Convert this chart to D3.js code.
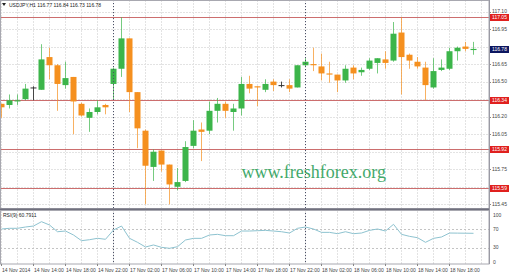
<!DOCTYPE html>
<html>
<head>
<meta charset="utf-8">
<script src="https://cdn.jsdelivr.net/npm/d3@7"></script>
<style>
body { margin: 0; background: #fff; }
svg { display: block; }
text { font-family: "Liberation Sans", Arial, sans-serif; }
</style>
</head>
<body>
<div id="chart"></div>
<script>
// USDJPY H1, 14 Nov 10:00 .. 18 Nov 21:00
const opens = [116.31, 116.30, 116.33, 116.35, 116.45, 116.43, 116.71, 116.64, 116.47, 116.54,
    116.31, 116.19, 116.24, 116.30, 116.48, 116.61, 116.87, 116.41, 116.08, 115.77,
    115.91, 115.79, 115.60, 115.65, 115.95, 116.09, 116.08, 116.25, 116.31, 116.24,
    116.27, 116.48, 116.46, 116.43, 116.50, 116.47, 116.47, 116.45, 116.64, 116.65,
    116.63, 116.57, 116.56, 116.51, 116.62, 116.58, 116.61, 116.66, 116.69, 116.68,
    116.92, 116.73, 116.67, 116.62, 116.45, 116.60, 116.61, 116.76, 116.80, 116.77]
const highs = [116.31, 116.39, 116.39, 116.48, 116.46, 116.82, 116.79, 116.65, 116.67, 116.54,
    116.32, 116.27, 116.34, 116.31, 116.62, 117.05, 116.87, 116.41, 116.09, 115.92,
    115.91, 115.79, 115.76, 115.99, 116.17, 116.15, 116.33, 116.36, 116.33, 116.31,
    116.54, 116.55, 116.46, 116.52, 116.52, 116.50, 116.52, 116.64, 116.70, 116.79,
    116.74, 116.67, 116.56, 116.64, 116.64, 116.62, 116.70, 116.70, 116.76, 117.01,
    117.05, 116.74, 116.71, 116.67, 116.70, 116.69, 116.79, 116.80, 116.84, 116.84]
const lows = [116.19, 116.27, 116.30, 116.34, 116.34, 116.43, 116.52, 116.25, 116.44, 116.05,
    116.20, 116.07, 116.22, 116.22, 116.35, 116.54, 116.24, 115.93, 115.45, 115.65,
    115.73, 115.45, 115.57, 115.64, 115.93, 115.82, 116.05, 116.15, 116.19, 116.08,
    116.21, 116.40, 116.29, 116.41, 116.42, 116.45, 116.41, 116.45, 116.63, 116.59,
    116.51, 116.49, 116.41, 116.49, 116.52, 116.55, 116.60, 116.57, 116.61, 116.67,
    116.39, 116.61, 116.61, 116.34, 116.44, 116.59, 116.60, 116.68, 116.76, 116.73]
const closes = [116.28, 116.34, 116.34, 116.44, 116.45, 116.69, 116.64, 116.48, 116.53, 116.33,
    116.21, 116.24, 116.28, 116.28, 116.61, 116.87, 116.41, 116.10, 115.78, 115.90,
    115.79, 115.62, 115.64, 115.94, 116.08, 116.07, 116.25, 116.31, 116.25, 116.27,
    116.48, 116.44, 116.45, 116.48, 116.47, 116.47, 116.44, 116.64, 116.67, 116.64,
    116.57, 116.56, 116.51, 116.61, 116.57, 116.60, 116.68, 116.70, 116.66, 116.91,
    116.71, 116.68, 116.63, 116.47, 116.59, 116.62, 116.76, 116.79, 116.78, 116.78]
const rsi = [70.0, 71.5, 71.5, 74.3, 76.4, 85.7, 78.6, 64.2, 65.7, 57.2,
    45.0, 47.1, 50.1, 48.0, 67.9, 76.4, 50.1, 41.5, 31.5, 35.8,
    30.8, 28.7, 32.1, 46.5, 50.0, 50.0, 57.2, 58.6, 55.7, 55.7,
    65.7, 65.7, 66.4, 67.1, 65.7, 64.2, 61.4, 71.5, 74.3, 70.0,
    62.8, 62.8, 60.0, 64.2, 60.0, 61.4, 67.1, 70.0, 65.7, 80.0,
    58.6, 54.3, 51.4, 41.5, 50.0, 52.9, 61.4, 61.2, 61.0, 60.79]

const timeLabels = ["14 Nov 2014", "14 Nov 14:00", "14 Nov 18:00", "14 Nov 22:00", "17 Nov 02:00",
    "17 Nov 06:00", "17 Nov 10:00", "17 Nov 14:00", "17 Nov 18:00", "17 Nov 22:00",
    "18 Nov 02:00", "18 Nov 06:00", "18 Nov 10:00", "18 Nov 14:00", "18 Nov 18:00"]
const timeLabelBars = [0, 4, 8, 12, 16, 20, 24, 28, 32, 36, 40, 44, 48, 52, 56]
const daySeparators = [14, 38]

const priceTicks = [117.10, 116.95, 116.80, 116.65, 116.50, 116.35, 116.20, 116.05, 115.90, 115.75, 115.60, 115.45]
const levelLines = [117.05, 116.34, 115.92, 115.59]
const lastPrice = 116.78
const rsiTicks = [100, 70, 30, 0]
const rsiLevels = [70, 30]

const W = 510, H = 275
const plotRight = 489, mainBottom = 208, rsiTop = 211, rsiBottom = 264

const svg = d3.select("#chart").append("svg")
    .attr("width", W).attr("height", H)

const x = d3.scaleLinear().domain([0, 59]).range([1, 473])
const y = d3.scaleLinear().domain([115.45, 117.10]).range([204.3, 11.5])
const yr = d3.scaleLinear().domain([0, 100]).range([261.7, 215])

const fmt = d3.format(".2f")
const bull = "#3cb54a", bear = "#f5901f", doji = "#333"

svg.append("clipPath").attr("id", "mainclip").append("rect")
    .attr("x", 0).attr("y", 0).attr("width", plotRight).attr("height", mainBottom)
svg.append("clipPath").attr("id", "rsiclip").append("rect")
    .attr("x", 0).attr("y", rsiTop).attr("width", plotRight).attr("height", rsiBottom - rsiTop)

const gridX = d3.range(0, 61, 2)

// main pane grid
const main = svg.append("g").attr("clip-path", "url(#mainclip)")
main.append("g").selectAll("line").data(gridX).join("line")
    .attr("x1", d => x(d) + 0.5).attr("x2", d => x(d) + 0.5)
    .attr("y1", 0).attr("y2", mainBottom)
    .attr("stroke", "#e3e3e3").attr("stroke-dasharray", "2,1")
main.append("g").selectAll("line").data(priceTicks).join("line")
    .attr("x1", 0).attr("x2", plotRight)
    .attr("y1", d => Math.round(y(d)) + 0.5).attr("y2", d => Math.round(y(d)) + 0.5)
    .attr("stroke", "#e3e3e3").attr("stroke-dasharray", "2,1")

// horizontal level lines
main.append("g").selectAll("line").data(levelLines).join("line")
    .attr("x1", 0).attr("x2", plotRight)
    .attr("y1", d => Math.round(y(d)) + 0.5).attr("y2", d => Math.round(y(d)) + 0.5)
    .attr("stroke", "#cc6e6e").attr("stroke-width", 1)

// watermark
main.append("text")
    .attr("x", x(30) + 0.5).attr("y", 178)
    .style("font-family", "'Liberation Serif', 'Times New Roman', serif")
    .attr("font-size", 18).attr("fill", "#43a96b")
    .text("www.freshforex.org")

// candles
const bars = d3.range(opens.length)
const colorOf = i => closes[i] > opens[i] ? bull : closes[i] < opens[i] ? bear : doji
main.append("g").selectAll("line").data(bars).join("line")
    .attr("x1", i => x(i) + 0.5).attr("x2", i => x(i) + 0.5)
    .attr("y1", i => y(highs[i])).attr("y2", i => y(lows[i]))
    .attr("stroke", colorOf).attr("stroke-opacity", i => colorOf(i) === doji ? 0.9 : 0.7)
main.append("g").selectAll("rect").data(bars).join("rect")
    .attr("x", i => x(i) - 2.5).attr("width", 6)
    .attr("y", i => y(Math.max(opens[i], closes[i])))
    .attr("height", i => Math.max(1, Math.abs(y(opens[i]) - y(closes[i]))))
    .attr("fill", colorOf)

// header
svg.append("path").attr("d", "M2,3 L6,3 L4,6 Z").attr("fill", "#222")
svg.append("text").attr("x", 9).attr("y", 6.5)
    .attr("font-size", 5).attr("fill", "#222")
    .text("USDJPY,H1  116.77 116.84 116.73 116.78")

// rsi pane
const rp = svg.append("g").attr("clip-path", "url(#rsiclip)")
rp.append("g").selectAll("line").data(gridX).join("line")
    .attr("x1", d => x(d) + 0.5).attr("x2", d => x(d) + 0.5)
    .attr("y1", rsiTop).attr("y2", rsiBottom)
    .attr("stroke", "#e3e3e3").attr("stroke-dasharray", "2,1")
rp.append("g").selectAll("line").data(rsiLevels).join("line")
    .attr("x1", 0).attr("x2", plotRight)
    .attr("y1", d => Math.round(yr(d)) + 0.5).attr("y2", d => Math.round(yr(d)) + 0.5)
    .attr("stroke", "#c4c4c4").attr("stroke-dasharray", "2,2")
rp.append("path")
    .datum(bars)
    .attr("d", d3.line().x(i => x(i) + 0.5).y(i => yr(rsi[i])))
    .attr("fill", "none").attr("stroke", "#8ec3d0").attr("stroke-width", 1)
svg.append("text").attr("x", 3).attr("y", 216.5)
    .attr("font-size", 5).attr("fill", "#222")
    .text("RSI(9) 60.7911")

// day separators across both panes
svg.append("g").selectAll("line").data(daySeparators).join("line")
    .attr("x1", d => x(d) + 0.5).attr("x2", d => x(d) + 0.5)
    .attr("y1", 0).attr("y2", rsiBottom)
    .attr("stroke", "#4a4f66").attr("stroke-dasharray", "1,2")

// frames
svg.append("rect").attr("x", 0.5).attr("y", 0.5)
    .attr("width", plotRight - 0.5).attr("height", mainBottom)
    .attr("fill", "none").attr("stroke", "#a8a8b0")
svg.append("line").attr("x1", 0).attr("x2", plotRight)
    .attr("y1", 209.5).attr("y2", 209.5)
    .attr("stroke", "#70707e").attr("stroke-width", 2)
svg.append("rect").attr("x", 0.5).attr("y", rsiTop - 0.5)
    .attr("width", plotRight - 0.5).attr("height", rsiBottom - rsiTop + 0.5)
    .attr("fill", "none").attr("stroke", "#a8a8b0")

// price axis; plain labels that sit under a marker box are left out, as in MT4
const boxes = levelLines.map(v => ({ v: v, fill: "#e0201e" }))
    .concat([{ v: lastPrice, fill: "#0c1660" }])
const freeTicks = priceTicks.filter(t => boxes.every(b => Math.abs(y(t) - y(b.v)) > 5))

const pa = svg.append("g")
pa.selectAll("line").data(priceTicks).join("line")
    .attr("x1", plotRight).attr("x2", plotRight + 2)
    .attr("y1", d => Math.round(y(d)) + 0.5).attr("y2", d => Math.round(y(d)) + 0.5)
    .attr("stroke", "#888")
pa.selectAll("text").data(freeTicks).join("text")
    .attr("x", plotRight + 3).attr("y", d => y(d) + 1.8)
    .attr("font-size", 5).attr("fill", "#444")
    .text(fmt)

const bx = pa.selectAll("g.box").data(boxes).join("g").attr("class", "box")
bx.append("rect")
    .attr("x", plotRight + 1).attr("width", 19)
    .attr("y", d => Math.round(y(d.v)) - 3).attr("height", 7)
    .attr("fill", d => d.fill)
bx.append("text")
    .attr("x", plotRight + 3).attr("y", d => Math.round(y(d.v)) + 2.3)
    .attr("font-size", 5).attr("fill", "#fff")
    .text(d => fmt(d.v))

// rsi axis
const ra = svg.append("g")
ra.selectAll("text").data(rsiTicks).join("text")
    .attr("x", plotRight + 4).attr("y", d => yr(d) + 1.8)
    .attr("font-size", 5).attr("fill", "#444")
    .text(d => d)
svg.append("line").attr("x1", plotRight + 0.5).attr("x2", plotRight + 0.5)
    .attr("y1", 0).attr("y2", rsiBottom)
    .attr("stroke", "#9a9aa4")

// time axis
const ta = svg.append("g")
ta.selectAll("line").data(timeLabelBars).join("line")
    .attr("x1", i => x(i) + 0.5).attr("x2", i => x(i) + 0.5)
    .attr("y1", rsiBottom).attr("y2", rsiBottom + 2)
    .attr("stroke", "#888")
ta.selectAll("text").data(timeLabelBars).join("text")
    .attr("x", i => x(i) + 1).attr("y", 271.5)
    .attr("font-size", 5).attr("fill", "#444")
    .text((i, k) => timeLabels[k])
</script>
</body>
</html>
